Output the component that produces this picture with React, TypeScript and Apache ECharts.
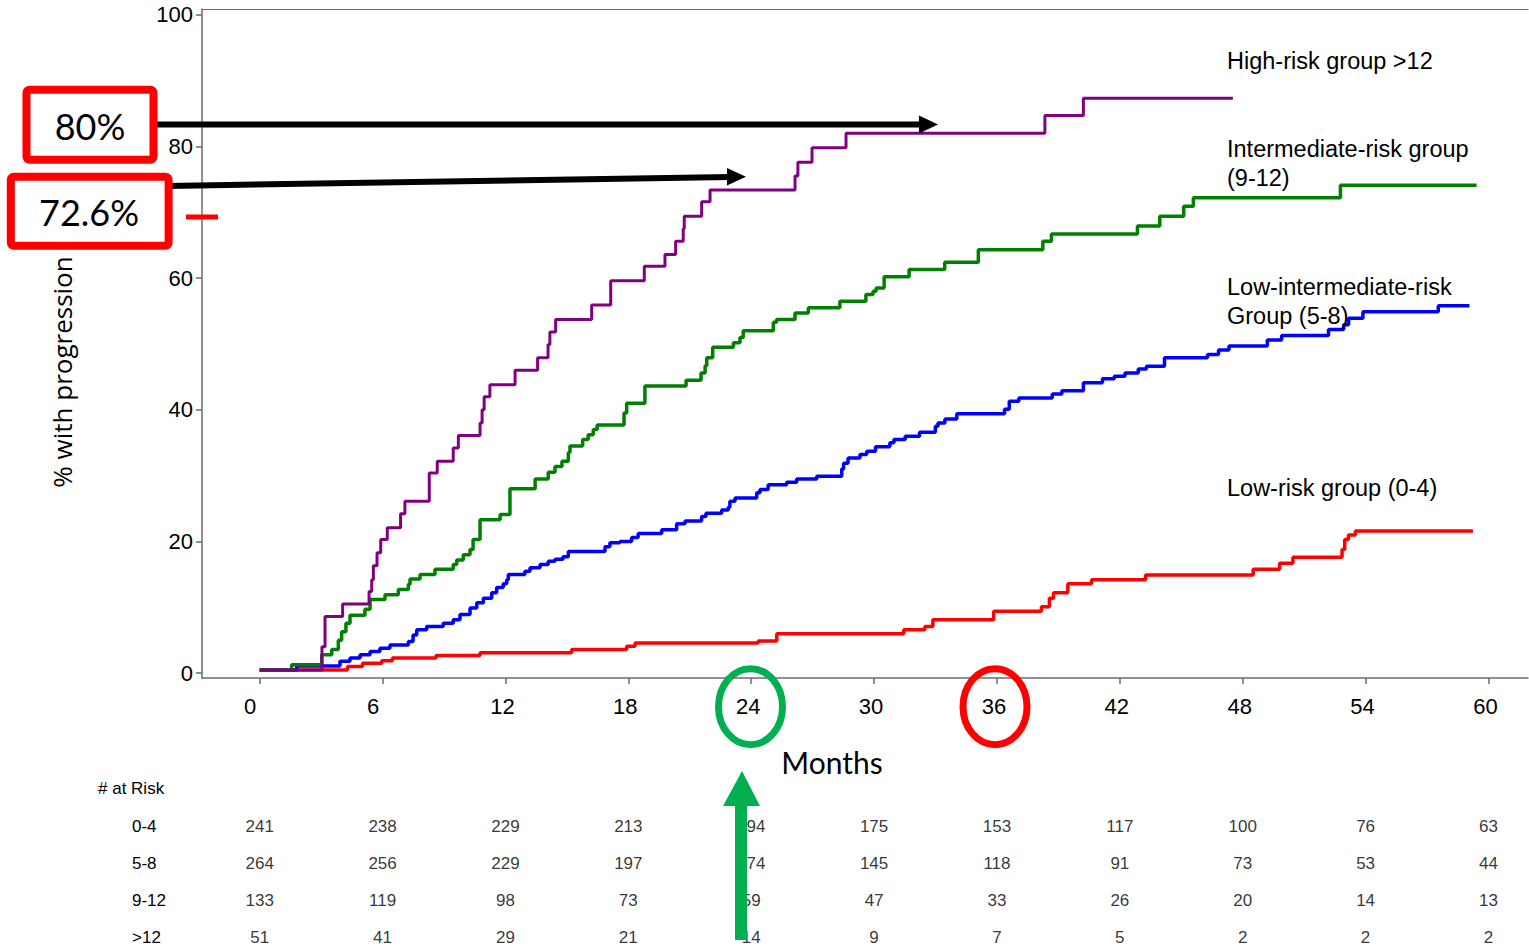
import React, { useEffect, useRef } from "react";
import * as echarts from "echarts";

// ---- Data ----
const xTicks = [0, 6, 12, 18, 24, 30, 36, 42, 48, 54, 60];
const yTicks = [0, 20, 40, 60, 80, 100];

// cumulative % with progression, [month, %] step points
const lowRisk = [
  [0, 0.5], [4.29, 1.0], [5.02, 1.5], [5.96, 1.9], [6.48, 2.3], [8.61, 2.7], [10.76, 3.1],
  [15.23, 3.6], [17.92, 4.1], [18.33, 4.6], [24.34, 4.9], [25.25, 6.0], [31.45, 6.6],
  [32.48, 7.1], [32.87, 8.1], [35.84, 9.4], [38.17, 10.1], [38.56, 11.4], [38.76, 12.2],
  [39.46, 13.6], [40.62, 14.2], [43.26, 14.9], [48.51, 15.8], [49.8, 16.7], [50.45, 17.6],
  [52.85, 18.8], [52.98, 20.3], [53.16, 21.0], [53.5, 21.6], [59.24, 21.6],
];
const lowIntRisk = [
  [0, 0.5], [1.81, 1.1], [3.92, 1.8], [4.41, 2.3], [4.9, 2.8], [5.39, 3.3], [5.87, 3.8],
  [6.36, 4.3], [7.26, 4.8], [7.49, 5.8], [7.67, 6.6], [8.15, 7.1], [8.96, 7.6], [9.45, 8.1],
  [9.78, 8.9], [10.27, 9.9], [10.6, 10.7], [10.92, 11.4], [11.33, 12.2], [11.57, 13.0],
  [11.89, 13.6], [12.06, 14.2], [12.14, 15.0], [12.95, 15.5], [13.2, 16.0], [13.69, 16.5],
  [14.09, 17.0], [14.42, 17.3], [14.81, 17.7], [15.07, 18.5], [16.86, 19.2], [17.1, 19.8],
  [17.59, 20.0], [18.16, 20.6], [18.48, 21.2], [19.63, 21.8], [20.36, 22.7], [20.77, 23.1],
  [21.58, 23.8], [21.79, 24.3], [22.56, 24.8], [22.88, 25.2], [22.96, 26.1], [23.21, 26.6],
  [24.27, 27.4], [24.43, 27.9], [24.83, 28.6], [25.73, 29.0], [26.22, 29.5], [27.2, 29.9],
  [28.42, 31.0], [28.51, 31.9], [28.73, 32.7], [29.31, 33.2], [29.64, 33.7], [30.07, 34.4],
  [30.77, 35.0], [30.97, 35.5], [31.52, 36.0], [32.22, 36.6], [32.99, 37.5], [33.12, 38.0],
  [33.46, 38.6], [34.04, 39.4], [36.37, 40.1], [36.6, 41.3], [37.07, 41.8], [38.7, 42.4],
  [39.17, 42.9], [40.22, 44.1], [41.15, 44.7], [41.73, 45.1], [42.25, 45.6], [42.9, 46.2],
  [43.3, 46.6], [44.18, 47.9], [46.28, 48.4], [46.82, 49.1], [47.33, 49.7], [49.2, 50.6],
  [49.9, 51.3], [52.19, 52.2], [52.93, 52.9], [53.17, 53.9], [53.87, 54.9], [57.55, 55.8],
  [59.07, 55.8],
];
const intRisk = [
  [0, 0.5], [1.56, 1.3], [3.03, 2.8], [3.52, 3.6], [3.84, 5.0], [4.0, 6.3], [4.21, 7.6],
  [4.41, 8.8], [5.14, 9.7], [5.39, 11.2], [6.12, 11.9], [6.77, 12.7], [7.26, 13.5],
  [7.34, 14.3], [7.83, 15.0], [8.56, 15.8], [9.45, 16.5], [9.62, 17.2], [9.94, 18.0],
  [10.27, 18.8], [10.42, 20.3], [10.76, 23.3], [11.74, 24.1], [12.22, 28.0], [13.45, 29.5],
  [14.09, 30.5], [14.42, 31.4], [14.76, 32.2], [15.07, 33.5], [15.15, 34.5], [15.77, 35.5],
  [16.04, 36.2], [16.29, 37.0], [16.48, 37.7], [17.79, 39.5], [17.92, 41.0], [18.81, 43.6],
  [20.82, 44.5], [21.55, 45.6], [21.75, 46.7], [21.83, 47.9], [22.12, 49.5], [23.13, 50.2],
  [23.45, 51.0], [23.61, 52.0], [25.08, 53.3], [25.24, 53.7], [26.14, 54.7], [26.79, 55.5],
  [28.33, 56.5], [29.6, 57.5], [29.95, 58.0], [30.1, 58.5], [30.49, 60.2], [31.71, 61.3],
  [33.45, 62.4], [35.09, 64.3], [38.24, 65.6], [38.66, 66.7], [42.86, 67.9], [43.95, 69.4],
  [45.12, 70.9], [45.59, 72.2], [52.77, 74.1], [59.42, 74.1],
];
const highRisk = [
  [0, 0.5], [3.04, 4.0], [3.19, 8.6], [4.05, 10.5], [5.34, 12.4], [5.47, 14.2], [5.55, 16.3],
  [5.73, 18.3], [5.91, 20.3], [6.23, 22.1], [6.88, 24.2], [7.09, 26.1], [8.28, 30.4],
  [8.67, 32.2], [9.45, 34.2], [9.7, 36.1], [10.76, 38.0], [10.86, 40.0], [10.96, 42.0],
  [11.24, 43.8], [12.47, 46.0], [13.57, 47.9], [14.08, 49.9], [14.17, 51.8], [14.45, 53.7],
  [16.21, 55.9], [17.14, 59.6], [18.78, 61.8], [19.79, 63.6], [20.31, 65.6], [20.68, 67.5],
  [20.73, 69.4], [21.58, 71.6], [21.99, 73.4], [26.14, 75.5], [26.28, 77.6], [26.97, 79.8],
  [28.63, 82.0], [38.34, 84.7], [40.22, 87.3], [47.52, 87.3],
];

const riskGroups = ["0-4", "5-8", "9-12", ">12"];
const atRisk04 = [241, 238, 229, 213, 194, 175, 153, 117, 100, 76, 63];
const atRisk58 = [264, 256, 229, 197, 174, 145, 118, 91, 73, 53, 44];
const atRisk912 = [133, 119, 98, 73, 59, 47, 33, 26, 20, 14, 13];
const atRiskGt12 = [51, 41, 29, 21, 14, 9, 7, 5, 2, 2, 2];
const rowIndex = [0, 1, 2, 3];

const groupLabels = [
  { text: "High-risk group >12", y: 61 },
  { text: "Intermediate-risk group\n(9-12)", y: 163.5 },
  { text: "Low-intermediate-risk\nGroup (5-8)", y: 301.5 },
  { text: "Low-risk group (0-4)", y: 488 },
];

const ARIAL = "'Liberation Sans', Arial, sans-serif";
const CAL = "Lato, 'Open Sans', sans-serif";
const AXIS_COLOR = "#6b6b6b";

export default function App() {
  const ref = useRef<HTMLDivElement>(null);

  useEffect(() => {
    if (!ref.current) return;
    const chart = echarts.init(ref.current, null, { renderer: "svg" });

    const atRiskRows = [atRisk04, atRisk58, atRisk912, atRiskGt12];
    const atRiskData: any[] = [];
    atRiskRows.forEach((row, r) => {
      row.forEach((v, i) => atRiskData.push([xTicks[i], rowIndex[r], v]));
    });

    const lineSeries = (name: string, data: number[][], color: string, width: number) => ({
      name,
      type: "line",
      step: "end",
      data,
      xAxisIndex: 0,
      yAxisIndex: 0,
      showSymbol: false,
      symbol: "none",
      lineStyle: { color, width },
      itemStyle: { color },
      z: 3,
    });

    const xMin = -2.817;
    const xMax = 61.93;

    const option: any = {
      animation: false,
      backgroundColor: "#ffffff",
      grid: [
        { left: 202, top: 9, width: 1326, height: 669 },
        { left: 202, top: 808, width: 1326, height: 140 },
      ],
      xAxis: [
        {
          type: "value",
          gridIndex: 0,
          min: xMin,
          max: xMax,
          position: "bottom",
          axisLine: { show: true, onZero: false, lineStyle: { color: AXIS_COLOR, width: 1.5 } },
          axisTick: { show: true, length: 6, customValues: xTicks, lineStyle: { color: AXIS_COLOR, width: 1.5 } },
          splitLine: { show: false },
          axisLabel: {
            customValues: xTicks,
            margin: 17,
            formatter: (v: number) => (v < 10 ? `{s|${v}}` : `{d|${v}}`),
            rich: {
              s: { fontFamily: ARIAL, fontSize: 22, color: "#000", padding: [0, 19, 0, 0] },
              d: { fontFamily: ARIAL, fontSize: 22, color: "#000", padding: [0, 6, 0, 0] },
            },
          },
        },
        {
          type: "value",
          gridIndex: 0,
          min: xMin,
          max: xMax,
          position: "top",
          axisLine: { show: true, onZero: false, lineStyle: { color: AXIS_COLOR, width: 1.2 } },
          axisTick: { show: false },
          axisLabel: { show: false },
          splitLine: { show: false },
        },
        {
          type: "value",
          gridIndex: 1,
          min: xMin,
          max: xMax,
          show: false,
        },
      ],
      yAxis: [
        {
          type: "value",
          gridIndex: 0,
          min: -0.73,
          max: 100.87,
          axisLine: { show: true, onZero: false, lineStyle: { color: AXIS_COLOR, width: 1.5 } },
          axisTick: { show: true, length: 6, customValues: yTicks, lineStyle: { color: AXIS_COLOR, width: 1.5 } },
          splitLine: { show: false },
          axisLabel: {
            customValues: yTicks,
            margin: 9,
            fontFamily: ARIAL,
            fontSize: 22,
            color: "#000",
            padding: [3, 0, 0, 0],
          },
        },
        {
          type: "value",
          gridIndex: 1,
          min: -0.5,
          max: 3.284,
          inverse: true,
          axisLine: { show: false, onZero: false },
          axisTick: { show: false },
          splitLine: { show: false },
          axisLabel: {
            customValues: rowIndex,
            formatter: (v: number) => riskGroups[v] ?? "",
            align: "left",
            margin: 70,
            fontFamily: ARIAL,
            fontSize: 17,
            color: "#000",
            padding: [6, 0, 0, 0],
          },
        },
      ],
      series: [
        lineSeries("Low-risk group (0-4)", lowRisk, "#ff0000", 3.5),
        lineSeries("Low-intermediate-risk Group (5-8)", lowIntRisk, "#0000ff", 3.5),
        lineSeries("Intermediate-risk group (9-12)", intRisk, "#008000", 3.5),
        lineSeries("High-risk group >12", highRisk, "#800080", 3),
        {
          type: "scatter",
          xAxisIndex: 2,
          yAxisIndex: 1,
          data: atRiskData,
          symbolSize: 1,
          itemStyle: { color: "rgba(0,0,0,0)" },
          label: {
            show: true,
            position: "inside",
            formatter: (p: any) => String(p.value[2]),
            fontFamily: ARIAL,
            fontSize: 17,
            color: "#000",
          },
          z: 2,
        },
      ],
      graphic: [
        {
          type: "text",
          x: 62,
          y: 372,
          rotation: Math.PI / 2,
          z: 50,
          style: {
            text: "% with progression",
            fontFamily: "'Open Sans', sans-serif",
            fontSize: 26,
            fill: "#000",
            textAlign: "center",
            textVerticalAlign: "middle",
          },
        },
        {
          type: "text",
          x: 832,
          y: 762,
          z: 50,
          style: {
            text: "Months",
            fontFamily: CAL,
            fontSize: 30,
            fill: "#000",
            textAlign: "center",
            textVerticalAlign: "middle",
          },
        },
        {
          type: "text",
          x: 98,
          y: 788,
          z: 50,
          style: {
            text: "# at Risk",
            fontFamily: ARIAL,
            fontSize: 17,
            fill: "#000",
            textAlign: "left",
            textVerticalAlign: "middle",
          },
        },
        ...groupLabels.map((g) => ({
          type: "text",
          x: 1227,
          y: g.y,
          z: 50,
          style: {
            text: g.text,
            fontFamily: ARIAL,
            fontSize: 23.5,
            lineHeight: 29,
            fill: "#000",
            textAlign: "left",
            textVerticalAlign: "middle",
          },
        })),
        {
          type: "line",
          z: 100,
          shape: { x1: 154, y1: 124.5, x2: 922, y2: 124.5 },
          style: { stroke: "#000", lineWidth: 6 },
        },
        {
          type: "polygon",
          z: 100,
          shape: { points: [[919, 115.5], [938, 124.5], [919, 133.5]] },
          style: { fill: "#000" },
        },
        {
          type: "line",
          z: 100,
          shape: { x1: 168, y1: 186, x2: 730, y2: 177 },
          style: { stroke: "#000", lineWidth: 6 },
        },
        {
          type: "polygon",
          z: 100,
          shape: { points: [[727, 168], [746, 176.7], [727, 185.4]] },
          style: { fill: "#000" },
        },
        {
          type: "rect",
          z: 110,
          shape: { x: 26.5, y: 89.8, width: 127, height: 70, r: 3 },
          style: { fill: "#fff", stroke: "#ff0000", lineWidth: 8 },
        },
        {
          type: "text",
          x: 90,
          y: 126,
          z: 111,
          style: {
            text: "80%",
            fontFamily: CAL,
            fontSize: 36,
            fill: "#000",
            textAlign: "center",
            textVerticalAlign: "middle",
          },
        },
        {
          type: "rect",
          z: 110,
          shape: { x: 10.8, y: 176.8, width: 157.8, height: 69, r: 3 },
          style: { fill: "#fff", stroke: "#ff0000", lineWidth: 8 },
        },
        {
          type: "text",
          x: 89,
          y: 212,
          z: 111,
          style: {
            text: "72.6%",
            fontFamily: CAL,
            fontSize: 36,
            fill: "#000",
            textAlign: "center",
            textVerticalAlign: "middle",
          },
        },
        {
          type: "line",
          z: 100,
          shape: { x1: 186, y1: 217, x2: 218, y2: 217 },
          style: { stroke: "#ff0000", lineWidth: 5 },
        },
        {
          type: "ellipse",
          z: 100,
          shape: { cx: 750.5, cy: 706.7, rx: 32, ry: 38 },
          style: { fill: "none", stroke: "#00b050", lineWidth: 7 },
        },
        {
          type: "ellipse",
          z: 100,
          shape: { cx: 995, cy: 706.7, rx: 32, ry: 38 },
          style: { fill: "none", stroke: "#ff0000", lineWidth: 7 },
        },
        {
          type: "polygon",
          z: 100,
          shape: {
            points: [
              [735, 940], [747, 940], [747, 806], [760, 806], [742, 771], [723, 806], [735, 806],
            ],
          },
          style: { fill: "#00b050" },
        },
      ],
    };

    chart.setOption(option);
    return () => chart.dispose();
  }, []);

  return (
    <div
      ref={ref}
      style={{ position: "absolute", left: 0, top: 0, width: 1529, height: 950, background: "#fff" }}
    />
  );
}
